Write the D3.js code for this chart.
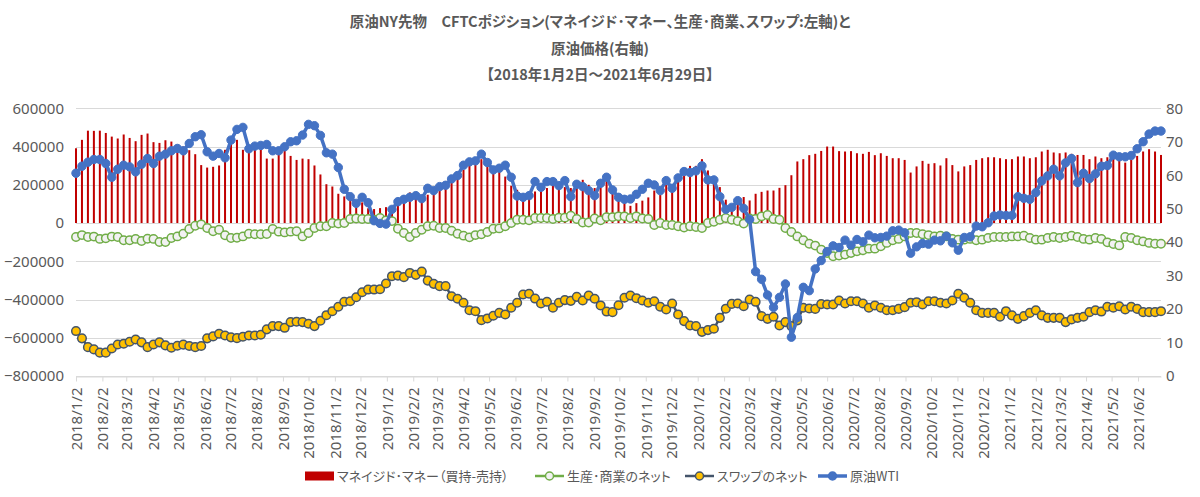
<!DOCTYPE html>
<html lang="ja">
<head>
  <meta charset="UTF-8">
  <title>原油NY先物 CFTCポジション</title>
  <script src='https://d3js.org/d3.v7.min.js'></script>
  <style>
    html, body {
      margin: 0;
      background-color: #ffffff;
      overflow: hidden;
    }
    text {
      fill: #595959;
    }
    .jp {
      font-family: 'Noto Sans CJK JP', sans-serif;
      font-feature-settings: 'palt';
    }
    .num {
      font-family: 'Noto Sans', sans-serif;
      font-size: 15px;
    }
  </style>
</head>
<body>
  <div id='chart'></div>

  <script type='text/javascript'>
    const titleLines = [
      '原油NY先物　CFTCポジション(マネイジド･マネー、生産･商業、スワップ:左軸)と',
      '原油価格(右軸)',
      '【2018年1月2日～2021年6月29日】',
    ]

    // weekly (Tuesday) report dates, 2018/1/2 .. 2021/6/29
    const firstDate = new Date(2018, 0, 2)
    const lastDate = new Date(2021, 5, 29)

    const xTickLabels = [
      '2018/1/2', '2018/2/2', '2018/3/2', '2018/4/2', '2018/5/2', '2018/6/2', '2018/7/2', '2018/8/2', '2018/9/2', '2018/10/2', '2018/11/2', '2018/12/2',
      '2019/1/2', '2019/2/2', '2019/3/2', '2019/4/2', '2019/5/2', '2019/6/2', '2019/7/2', '2019/8/2', '2019/9/2', '2019/10/2', '2019/11/2', '2019/12/2',
      '2020/1/2', '2020/2/2', '2020/3/2', '2020/4/2', '2020/5/2', '2020/6/2', '2020/7/2', '2020/8/2', '2020/9/2', '2020/10/2', '2020/11/2', '2020/12/2',
      '2021/1/2', '2021/2/2', '2021/3/2', '2021/4/2', '2021/5/2', '2021/6/2',
    ]
    const leftTicks = [600000, 400000, 200000, 0, -200000, -400000, -600000, -800000]
    const rightTicks = [80, 70, 60, 50, 40, 30, 20, 10, 0]

    const seriesNames = ['マネイジド･マネー（買持-売持）', '生産･商業のネット', 'スワップのネット', '原油WTI']

    // managed money net (long - short), contracts
    const managedMoney = [
      391000, 435000, 483000, 482000, 483000, 471000, 452000, 442000, 463000, 445000,
      428000, 461000, 468000, 423000, 419000, 433000, 426000, 409000, 400000, 381000,
      360000, 303000, 290000, 294000, 301000, 383000, 435000, 435000, 383000, 391000,
      386000, 383000, 337000, 337000, 363000, 383000, 351000,
      330000, 337000, 334000, 301000, 254000, 203000, 191000, 153000, 139000, 122000,
      83000, 108000, 77000, 73000, 78000, 83000, 83000, 104000, 118000, 160000,
      157000, 130000, 148000, 160000, 170000, 183000, 216000, 230000, 278000, 304000,
      313000, 334000, 296000, 278000, 273000, 243000,
      195000, 174000, 122000, 139000, 165000, 174000, 183000, 200000, 188000, 188000,
      183000, 183000, 226000, 200000, 183000, 195000, 226000, 191000, 122000, 104000,
      90000, 104000, 117000, 134000, 170000, 148000, 200000, 188000, 217000, 247000,
      299000, 299000, 334000, 275000, 230000, 188000, 122000,
      90000, 108000, 136000, 118000, 153000, 163000, 170000, 170000, 184000, 198000,
      250000, 322000, 334000, 355000, 362000, 377000, 400000, 400000, 376000, 374000,
      376000, 365000, 362000, 372000, 355000, 365000, 351000, 339000, 339000, 330000,
      264000, 296000, 325000, 310000, 313000, 301000,
      339000, 303000, 270000, 296000, 303000, 330000, 339000, 344000, 344000, 339000,
      334000, 334000, 348000, 348000, 339000, 344000, 374000, 383000, 369000, 365000,
      369000, 362000, 356000, 356000, 334000, 348000, 339000, 344000, 365000, 334000,
      316000, 330000, 351000, 374000, 386000, 374000, 356000,
    ]

    // producer / merchant net
    const producerNet = [
      -73000, -63000, -73000, -71000, -83000, -80000, -71000, -73000, -90000, -90000,
      -83000, -94000, -82000, -83000, -99000, -99000, -78000, -70000, -56000, -31000,
      -14000, -7000, -26000, -43000, -35000, -64000, -78000, -77000, -70000, -56000,
      -59000, -59000, -57000, -31000, -45000, -49000, -45000,
      -43000, -70000, -52000, -26000, -17000, -17000, 0, -3000, 0, 21000,
      24000, 21000, 21000, 17000, 26000, 14000, 10000, -30000, -52000, -73000,
      -52000, -35000, -17000, -14000, -26000, -26000, -40000, -56000, -66000, -75000,
      -63000, -59000, -47000, -30000, -28000, -17000,
      0, 17000, 17000, 14000, 26000, 26000, 26000, 21000, 28000, 28000,
      38000, 21000, 3000, 3000, 24000, 14000, 31000, 31000, 35000, 35000,
      26000, 35000, 24000, 21000, -10000, 0, -10000, -10000, -17000, -24000,
      -17000, -21000, -26000, 0, 7000, 17000, 26000,
      17000, 10000, -3000, 24000, 21000, 35000, 42000, 21000, 17000, -26000,
      -47000, -70000, -90000, -108000, -118000, -139000, -157000, -174000, -170000, -165000,
      -157000, -148000, -143000, -134000, -134000, -122000, -104000, -90000, -83000, -70000,
      -52000, -52000, -59000, -63000, -70000, -66000,
      -70000, -83000, -87000, -87000, -83000, -90000, -87000, -78000, -73000, -73000,
      -73000, -70000, -70000, -66000, -78000, -87000, -87000, -78000, -73000, -78000,
      -73000, -66000, -73000, -83000, -87000, -78000, -83000, -101000, -110000, -117000,
      -73000, -78000, -90000, -96000, -104000, -108000, -108000,
    ]

    // swap dealer net
    const swapNet = [
      -565000, -603000, -649000, -661000, -678000, -678000, -656000, -635000, -631000, -621000,
      -609000, -624000, -649000, -635000, -624000, -640000, -652000, -642000, -636000, -643000,
      -649000, -643000, -603000, -593000, -579000, -588000, -598000, -602000, -595000, -588000,
      -588000, -584000, -556000, -539000, -539000, -548000, -518000,
      -516000, -518000, -527000, -539000, -511000, -482000, -461000, -438000, -412000, -409000,
      -388000, -362000, -348000, -348000, -346000, -316000, -278000, -275000, -283000, -261000,
      -271000, -254000, -301000, -318000, -330000, -330000, -383000, -396000, -417000, -456000,
      -461000, -508000, -499000, -485000, -470000, -478000,
      -443000, -417000, -374000, -370000, -395000, -421000, -412000, -443000, -417000, -403000,
      -407000, -386000, -405000, -379000, -396000, -431000, -463000, -466000, -430000, -391000,
      -379000, -393000, -405000, -417000, -409000, -438000, -452000, -421000, -478000, -513000,
      -536000, -539000, -569000, -560000, -553000, -496000, -448000,
      -423000, -421000, -435000, -400000, -412000, -487000, -501000, -490000, -536000, -518000,
      -539000, -509000, -443000, -447000, -449000, -424000, -426000, -426000, -405000, -421000,
      -409000, -409000, -421000, -443000, -431000, -443000, -456000, -456000, -449000, -440000,
      -417000, -414000, -426000, -409000, -409000, -417000,
      -421000, -405000, -370000, -391000, -417000, -456000, -470000, -470000, -470000, -490000,
      -461000, -483000, -501000, -487000, -470000, -456000, -483000, -496000, -496000, -496000,
      -518000, -504000, -496000, -490000, -466000, -456000, -463000, -438000, -443000, -435000,
      -452000, -438000, -449000, -466000, -466000, -466000, -461000,
    ]

    // WTI crude, USD/bbl (right axis)
    const wti = [
      60.6, 62.7, 63.9, 64.7, 64.7, 63.5, 59.4, 61.8, 63.0, 62.5,
      61.0, 63.3, 65.0, 63.5, 65.7, 66.3, 67.3, 68.0, 67.3, 69.5,
      71.5, 72.1, 67.0, 65.7, 66.5, 65.2, 70.5, 73.7, 74.3, 67.9,
      68.7, 68.9, 69.2, 67.3, 67.3, 68.5, 70.0,
      70.3, 72.0, 75.2, 74.8, 71.9, 66.7, 66.3, 62.3, 55.8, 53.6,
      51.6, 53.4, 51.8, 46.4, 45.6, 45.4, 49.8, 52.1, 52.8, 53.4,
      53.9, 53.0, 56.1, 55.4, 56.6, 57.0, 58.9, 59.9, 63.0, 64.0,
      64.3, 66.3, 63.8, 61.6, 62.1, 63.0,
      59.4, 53.8, 53.4, 53.9, 58.1, 56.4, 58.1, 58.1, 56.9, 58.4,
      53.6, 57.3, 56.6, 55.4, 53.9, 57.6, 59.4, 55.6, 53.4, 52.8,
      52.9, 54.3, 55.8, 57.6, 57.1, 55.4, 58.4, 56.1, 59.2, 61.1,
      60.8, 61.3, 62.8, 58.6, 58.6, 53.6, 49.8,
      50.4, 52.4, 50.1, 46.8, 31.2, 28.9, 24.2, 20.5, 23.5, 27.5,
      11.6, 17.5, 26.5, 25.5, 32.0, 34.5, 37.2, 38.9, 38.4, 40.6,
      39.1, 40.8, 40.1, 42.1, 41.3, 41.4, 41.8, 43.4, 43.6, 42.8,
      36.7, 38.6, 39.6, 39.4, 40.6, 40.4,
      41.8, 39.8, 37.6, 41.4, 41.6, 44.8, 44.6, 45.8, 47.8, 48.1,
      48.0, 48.0, 53.6, 53.1, 52.8, 54.8, 58.3, 59.8, 61.8, 59.8,
      63.7, 65.0, 57.8, 60.6, 59.0, 60.4, 62.7, 62.9, 66.0, 65.5,
      65.5, 65.9, 67.9, 70.0, 72.3, 73.2, 73.2,
    ]

    const colors = {
      managed: '#C00000',
      producer: '#70AD47',
      producerFill: '#F2F2F2',
      swapLine: '#44546A',
      swapFill: '#FFC000',
      wti: '#4472C4',
      grid: '#D9D9D9',
    }

    const width = 1200
    const height = 497
    const plot = { left: 76, right: 1161, top: 108.3, bottom: 376 }

    const dates = d3.timeTuesday.range(firstDate, d3.timeDay.offset(lastDate, 1))
    const parseTick = d3.timeParse('%Y/%m/%d')

    const x = d3.scaleTime()
      .domain([firstDate, lastDate])
      .range([plot.left, plot.right])
    const yLeft = d3.scaleLinear()
      .domain([-800000, 600000])
      .range([plot.bottom, plot.top])
    const yRight = d3.scaleLinear()
      .domain([0, 80])
      .range([plot.bottom, plot.top])

    const svg = d3.select('#chart').append('svg')
      .attr('width', width)
      .attr('height', height)

    // title
    svg.append('g')
      .selectAll('text')
      .data(titleLines)
      .enter()
      .append('text')
      .attr('class', 'jp')
      .attr('x', 600)
      .attr('y', (d, i) => 27 + i * 26.5)
      .style('text-anchor', 'middle')
      .style('font-size', '14.5px')
      .style('font-weight', 700)
      .text(d => d)

    // gridlines
    svg.append('g')
      .selectAll('line')
      .data(leftTicks)
      .enter()
      .append('line')
      .attr('x1', plot.left)
      .attr('x2', plot.right)
      .attr('y1', d => Math.round(yLeft(d)) + 0.5)
      .attr('y2', d => Math.round(yLeft(d)) + 0.5)
      .style('stroke', colors.grid)
      .style('stroke-width', 1)

    // left axis
    const leftAxis = d3.axisLeft(yLeft)
      .tickValues(leftTicks)
      .tickFormat(d3.format('d'))
      .tickSize(0)
      .tickPadding(12)
    const gl = svg.append('g')
      .attr('transform', `translate(${plot.left},0)`)
      .call(leftAxis)
    gl.select('.domain').remove()
    gl.selectAll('text').attr('class', 'num').attr('fill', null)

    // right axis
    const rightAxis = d3.axisRight(yRight)
      .tickValues(rightTicks)
      .tickSize(0)
      .tickPadding(5)
    const gr = svg.append('g')
      .attr('transform', `translate(${plot.right},0)`)
      .call(rightAxis)
    gr.select('.domain').remove()
    gr.selectAll('text').attr('class', 'num').attr('fill', null)

    // bottom axis (monthly labels)
    const tickDates = xTickLabels.map(s => parseTick(s))
    const bottomAxis = d3.axisBottom(x)
      .tickValues(tickDates)
      .tickFormat((d, i) => xTickLabels[i])
      .tickSize(5)
      .tickSizeOuter(0)
    const gb = svg.append('g')
      .attr('transform', `translate(0,${Math.round(plot.bottom) + 0.5})`)
      .call(bottomAxis)
    gb.select('.domain').style('stroke', colors.grid)
    gb.selectAll('.tick line').style('stroke', colors.grid)
    gb.selectAll('text')
      .attr('class', 'num')
      .attr('fill', null)
      .attr('transform', 'rotate(-90)')
      .attr('x', -11)
      .attr('y', 0)
      .attr('dy', '0.36em')
      .style('text-anchor', 'end')

    // managed money bars
    svg.append('g')
      .selectAll('rect')
      .data(managedMoney)
      .enter()
      .append('rect')
      .attr('x', (d, i) => x(dates[i]) - 1)
      .attr('width', 2)
      .attr('y', d => Math.min(yLeft(d), yLeft(0)))
      .attr('height', d => Math.abs(yLeft(d) - yLeft(0)))
      .style('fill', colors.managed)

    const drawLine = (values, yScale, lineColor, lineWidth, fill, stroke, r, strokeWidth) => {
      const g = svg.append('g')
      const line = d3.line()
        .x((d, i) => x(dates[i]))
        .y(d => yScale(d))
      g.append('path')
        .datum(values)
        .attr('d', line)
        .style('fill', 'none')
        .style('stroke', lineColor)
        .style('stroke-width', lineWidth)
        .style('stroke-linejoin', 'round')
      g.selectAll('circle')
        .data(values)
        .enter()
        .append('circle')
        .attr('cx', (d, i) => x(dates[i]))
        .attr('cy', d => yScale(d))
        .attr('r', r)
        .style('fill', fill)
        .style('stroke', stroke)
        .style('stroke-width', strokeWidth)
    }

    drawLine(producerNet, yLeft, colors.producer, 2.2, colors.producerFill, colors.producer, 4.2, 1.5)
    drawLine(swapNet, yLeft, colors.swapLine, 2.5, colors.swapFill, colors.swapLine, 4.3, 1.5)
    drawLine(wti, yRight, colors.wti, 3.5, colors.wti, colors.wti, 4.2, 1)

    // legend
    const legendY = 476
    const legend = svg.append('g')
    const items = [
      { x: 305, type: 'bar' },
      { x: 535, type: 'producer' },
      { x: 685, type: 'swap' },
      { x: 818, type: 'wti' },
    ]
    items.forEach((item, i) => {
      const g = legend.append('g').attr('transform', `translate(${item.x},${legendY})`)
      if (item.type === 'bar') {
        g.append('rect')
          .attr('x', 0).attr('y', -4.5)
          .attr('width', 29).attr('height', 9)
          .style('fill', colors.managed)
      } else {
        const lc = item.type === 'producer' ? colors.producer : item.type === 'swap' ? colors.swapLine : colors.wti
        const fc = item.type === 'producer' ? colors.producerFill : item.type === 'swap' ? colors.swapFill : colors.wti
        g.append('line')
          .attr('x1', 0).attr('x2', 29).attr('y1', 0).attr('y2', 0)
          .style('stroke', lc)
          .style('stroke-width', item.type === 'wti' ? 3.5 : 2.5)
        g.append('circle')
          .attr('cx', 14.5).attr('cy', 0).attr('r', 4)
          .style('fill', fc)
          .style('stroke', lc)
          .style('stroke-width', 1.5)
      }
      g.append('text')
        .attr('class', 'jp')
        .attr('x', 32)
        .attr('y', 0)
        .attr('dy', '0.36em')
        .style('font-size', '13px')
        .text(seriesNames[i])
    })
  </script>
</body>
</html>
